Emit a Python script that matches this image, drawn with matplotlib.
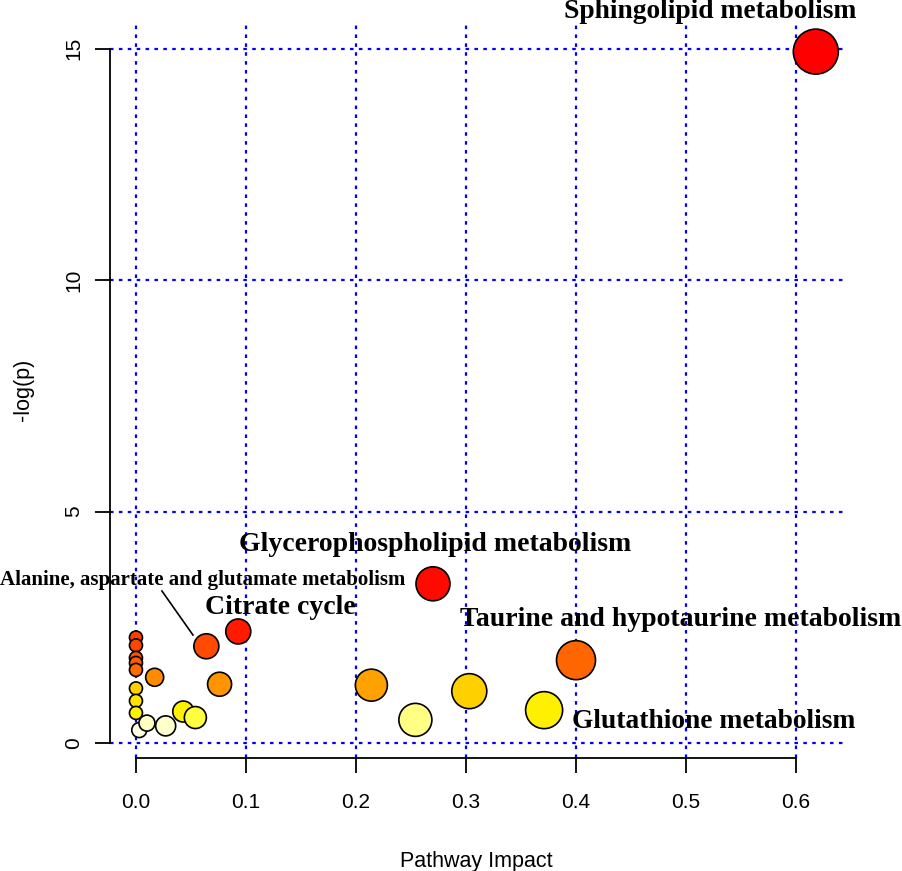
import matplotlib
matplotlib.use("Agg")
import matplotlib.pyplot as plt

# pathway impact (x), -log(p) (y), bubble radius in px, fill colour
impact = [0.000, 0.000, 0.000, 0.000, 0.000, 0.000, 0.000, 0.000, 0.003,
          0.010, 0.017, 0.027, 0.043, 0.054, 0.064, 0.076, 0.093,
          0.214, 0.254, 0.270, 0.303, 0.371, 0.400, 0.618]
logp = [2.28, 2.11, 1.84, 1.73, 1.58, 1.18, 0.91, 0.65, 0.28,
        0.43, 1.42, 0.37, 0.68, 0.55, 2.09, 1.27, 2.41,
        1.25, 0.50, 3.44, 1.12, 0.71, 1.79, 14.94]
radius = [6.5, 6.5, 6.5, 6.5, 6.5, 6.5, 6.5, 6.5, 7.5,
          8, 9, 10, 10.5, 11, 12.5, 12, 12.5,
          16, 16.5, 17, 17.5, 18.5, 19.5, 22.5]
colors = ["#FF3C00", "#FF4600", "#FF5200", "#FF5C00", "#FF6A00", "#FFD000", "#FFE400", "#FFF200", "#FFFFE4",
          "#FFFFC4", "#FF8C00", "#FFFFCC", "#FFF000", "#FFFF40", "#FF4A00", "#FF9400", "#FF1A00",
          "#FFA200", "#FFFF84", "#FF0A00", "#FFD000", "#FFF000", "#FF6600", "#FF0000"]

# pathway labels: text, x, y, size
labels = ["Sphingolipid metabolism", "Glycerophospholipid metabolism",
          "Alanine, aspartate and glutamate metabolism", "Citrate cycle",
          "Taurine and hypotaurine metabolism", "Glutathione metabolism"]
label_x = [0.522, 0.272, 0.061, 0.131, 0.495, 0.525]
label_y = [15.80, 4.28, 3.52, 2.92, 2.66, 0.475]
label_size = [19.8, 20, 15, 20, 20, 19.8]

xticks = [0.0, 0.1, 0.2, 0.3, 0.4, 0.5, 0.6]
yticks = [0, 5, 10, 15]

dpi = 100
fig = plt.figure(figsize=(9.02, 8.71), dpi=dpi)
ax = fig.add_axes([110 / 902, 1 - 758 / 871, 733 / 902, 736 / 871])
ax.set_xlim(-0.0236, 0.6427)
ax.set_ylim(-0.324, 15.58)

ax.set_xticks(xticks)
ax.set_yticks(yticks)
ax.set_xticklabels([f"{t:.1f}" for t in xticks])
ax.set_yticklabels([str(t) for t in yticks], rotation=90, va="center")
ax.grid(True, color="blue", linestyle=(0, (1.6, 2.4)), linewidth=1.6)
ax.set_axisbelow(True)

for s in ["top", "right"]:
    ax.spines[s].set_visible(False)
ax.spines["left"].set_bounds(0, 15)
ax.spines["bottom"].set_bounds(0, 0.6)
ax.spines["left"].set_linewidth(1.3)
ax.spines["bottom"].set_linewidth(1.3)
ax.tick_params(length=11, width=1.3, labelsize=15, pad=8)
ax.tick_params(axis="x", pad=14)
for t in ax.get_xticklabels() + ax.get_yticklabels():
    t.set_fontfamily("Liberation Sans")

ax.set_xlabel("Pathway Impact", fontsize=15.5, family="Liberation Sans", labelpad=28)
ax.set_ylabel("-log(p)", fontsize=15.5, family="Liberation Sans", labelpad=22)

sizes = [(2 * r * 72 / dpi) ** 2 for r in radius]
ax.scatter(impact, logp, s=sizes, c=colors, edgecolors="black", linewidths=1.2,
           zorder=3, clip_on=False)

for txt, x, y, fs in zip(labels, label_x, label_y, label_size):
    ax.text(x, y, txt, ha="center", va="center", fontsize=fs, fontweight="bold",
            family="Liberation Serif", zorder=4, clip_on=False)

# leader line for the alanine label
ax.plot([0.0236, 0.0518], [3.285, 2.334], color="black", linewidth=1.2, zorder=2)

fig.savefig("out.png", dpi=dpi)
